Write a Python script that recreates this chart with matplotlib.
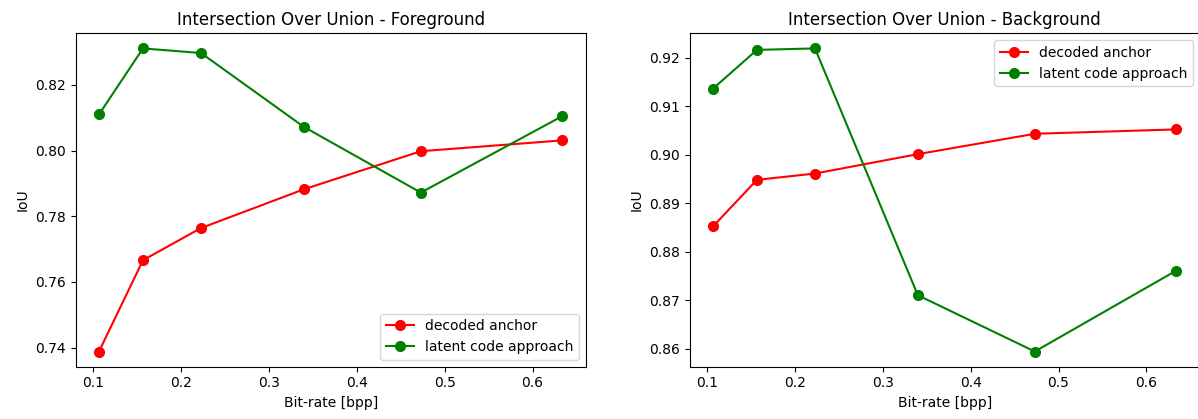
import matplotlib
matplotlib.use("Agg")
import matplotlib.pyplot as plt

# bit-rates of the six operating points
bpp = [0.107, 0.157, 0.223, 0.340, 0.473, 0.634]

# foreground IoU
fg_anchor = [0.7388, 0.7666, 0.7764, 0.7882, 0.7998, 0.8031]
fg_latent = [0.8110, 0.8311, 0.8297, 0.8072, 0.7872, 0.8105]

# background IoU
bg_anchor = [0.8852, 0.8948, 0.8961, 0.9001, 0.9043, 0.9052]
bg_latent = [0.9136, 0.9216, 0.9219, 0.8710, 0.8594, 0.8761]


def draw(ax, anchor, latent, title, loc):
    ax.plot(bpp, anchor, "o-", color="red", ms=7, label="decoded anchor")
    ax.plot(bpp, latent, "o-", color="green", ms=7, label="latent code approach")
    ax.set_title(title)
    ax.set_xlabel("Bit-rate [bpp]")
    ax.set_ylabel("IoU")
    ax.legend(loc=loc)


fig = plt.figure(figsize=(11.98, 4.19), dpi=100)
ax1 = fig.add_axes([0.0633, 0.1249, 0.4255, 0.7957])
ax2 = fig.add_axes([0.5758, 0.1249, 0.4255, 0.7957])

draw(ax1, fg_anchor, fg_latent, "Intersection Over Union - Foreground", "lower right")
draw(ax2, bg_anchor, bg_latent, "Intersection Over Union - Background", "upper right")

fig.savefig("out.png", dpi=100)
